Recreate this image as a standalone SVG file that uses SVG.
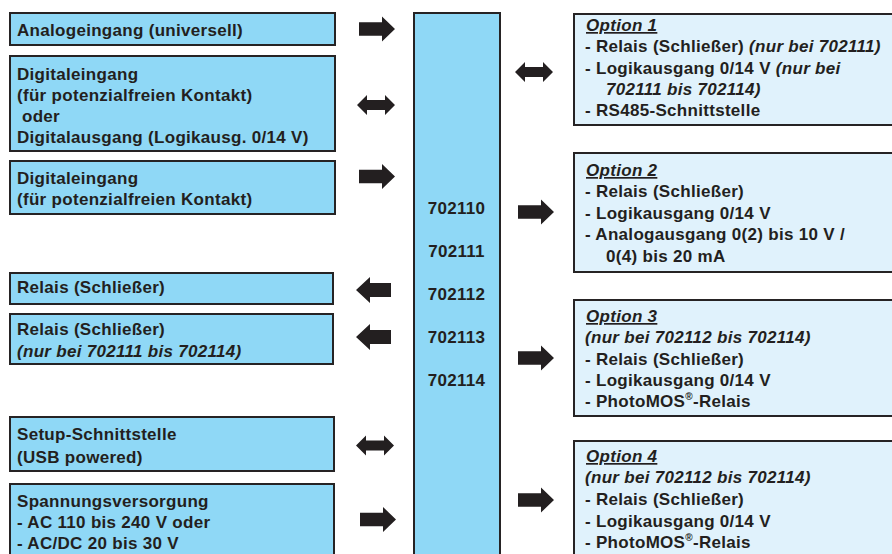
<svg xmlns="http://www.w3.org/2000/svg" width="892" height="554" viewBox="0 0 892 554">
<defs>
<style>
.l{fill:#8fd8f6;stroke:#262324;stroke-width:2}
.r{fill:#e0f2fc;stroke:#262324;stroke-width:2}
text{font-family:"Liberation Sans",Arial,Helvetica,sans-serif;font-size:17px;font-weight:bold;fill:#231f20;letter-spacing:0.3px}
.i{font-style:italic}
.u{text-decoration:underline;font-style:italic}
.a{fill:#231f20}
.c{text-anchor:middle}
</style>
<path id="aR" d="M0,-6.7 H23 V-12.5 L36,0 L23,12.5 V6.7 H0 Z"/>
<path id="aL" d="M0,0 L14,-13 V-7 H35 V7 H14 V13 Z"/>
<path id="aD" d="M0,0 L10,-10 V-5 H28 V-10 L38,0 L28,10 V5 H10 V10 Z"/>
</defs>
<rect width="892" height="554" fill="#ffffff"/>

<g id="n-analog">
<rect class="l" x="10" y="13" width="325" height="32"/>
<text x="17" y="36">Analogeingang (universell)</text>
</g>
<g id="n-digital-io">
<rect class="l" x="10" y="56" width="325" height="95"/>
<text x="17" y="80">Digitaleingang</text>
<text x="17" y="101">(für potenzialfreien Kontakt)</text>
<text x="22" y="122">oder</text>
<text x="17" y="143">Digitalausgang (Logikausg. 0/14 V)</text>
</g>
<g id="n-digital-in">
<rect class="l" x="10" y="161" width="325" height="53"/>
<text x="17" y="184">Digitaleingang</text>
<text x="17" y="205">(für potenzialfreien Kontakt)</text>
</g>
<g id="n-relais1">
<rect class="l" x="10" y="273" width="323" height="31"/>
<text x="17" y="293">Relais (Schließer)</text>
</g>
<g id="n-relais2">
<rect class="l" x="10" y="314" width="323" height="50"/>
<text x="17" y="335">Relais (Schließer)</text>
<text x="17" y="357" class="i">(nur bei 702111 bis 702114)</text>
</g>
<g id="n-setup">
<rect class="l" x="10" y="417" width="324" height="54"/>
<text x="17" y="440">Setup-Schnittstelle</text>
<text x="17" y="463">(USB powered)</text>
</g>
<g id="n-power">
<rect class="l" x="10" y="484" width="324" height="80"/>
<text x="17" y="507">Spannungsversorgung</text>
<text x="17" y="528">- AC 110 bis 240 V oder</text>
<text x="17" y="549">- AC/DC 20 bis 30 V</text>
</g>

<g id="n-device">
<rect class="l" x="414" y="13" width="86" height="560"/>
<text class="c" x="456.5" y="214">702110</text>
<text class="c" x="456.5" y="257">702111</text>
<text class="c" x="456.5" y="300">702112</text>
<text class="c" x="456.5" y="343">702113</text>
<text class="c" x="456.5" y="386">702114</text>
</g>

<g id="n-option1">
<rect class="r" x="574" y="14" width="330" height="111"/>
<text x="586" y="31" class="u">Option 1</text>
<text x="585" y="52">- Relais (Schließer) <tspan class="i">(nur bei 702111)</tspan></text>
<text x="585" y="74">- Logikausgang 0/14 V <tspan class="i">(nur bei</tspan></text>
<text x="606" y="95" class="i">702111 bis 702114)</text>
<text x="585" y="116">- RS485-Schnittstelle</text>
</g>
<g id="n-option2">
<rect class="r" x="574" y="153" width="330" height="119"/>
<text x="586" y="176" class="u">Option 2</text>
<text x="585" y="197">- Relais (Schließer)</text>
<text x="585" y="219">- Logikausgang 0/14 V</text>
<text x="585" y="240">- Analogausgang 0(2) bis 10 V /</text>
<text x="606" y="262">0(4) bis 20 mA</text>
</g>
<g id="n-option3">
<rect class="r" x="574" y="300" width="330" height="116"/>
<text x="586" y="322" class="u">Option 3</text>
<text x="585" y="343" class="i">(nur bei 702112 bis 702114)</text>
<text x="585" y="365">- Relais (Schließer)</text>
<text x="585" y="386">- Logikausgang 0/14 V</text>
<text x="585" y="407">- PhotoMOS<tspan font-size="10" dy="-7">®</tspan><tspan dy="7">-Relais</tspan></text>
</g>
<g id="n-option4">
<rect class="r" x="574" y="441" width="330" height="130"/>
<text x="586" y="462" class="u">Option 4</text>
<text x="585" y="483" class="i">(nur bei 702112 bis 702114)</text>
<text x="585" y="505">- Relais (Schließer)</text>
<text x="585" y="527">- Logikausgang 0/14 V</text>
<text x="585" y="548">- PhotoMOS<tspan font-size="10" dy="-7">®</tspan><tspan dy="7">-Relais</tspan></text>
</g>

<g id="connectors" class="a">
<use href="#aR" transform="translate(359,29)"/>
<use href="#aD" transform="translate(357,105)"/>
<use href="#aR" transform="translate(359,176.5)"/>
<use href="#aL" transform="translate(356,290)"/>
<use href="#aL" transform="translate(356,337)"/>
<use href="#aD" transform="translate(356,445.5)"/>
<use href="#aR" transform="translate(360,519.5)"/>
<use href="#aD" transform="translate(515,72)"/>
<use href="#aR" transform="translate(518,212)"/>
<use href="#aR" transform="translate(518,358)"/>
<use href="#aR" transform="translate(518,500)"/>
</g>
</svg>
